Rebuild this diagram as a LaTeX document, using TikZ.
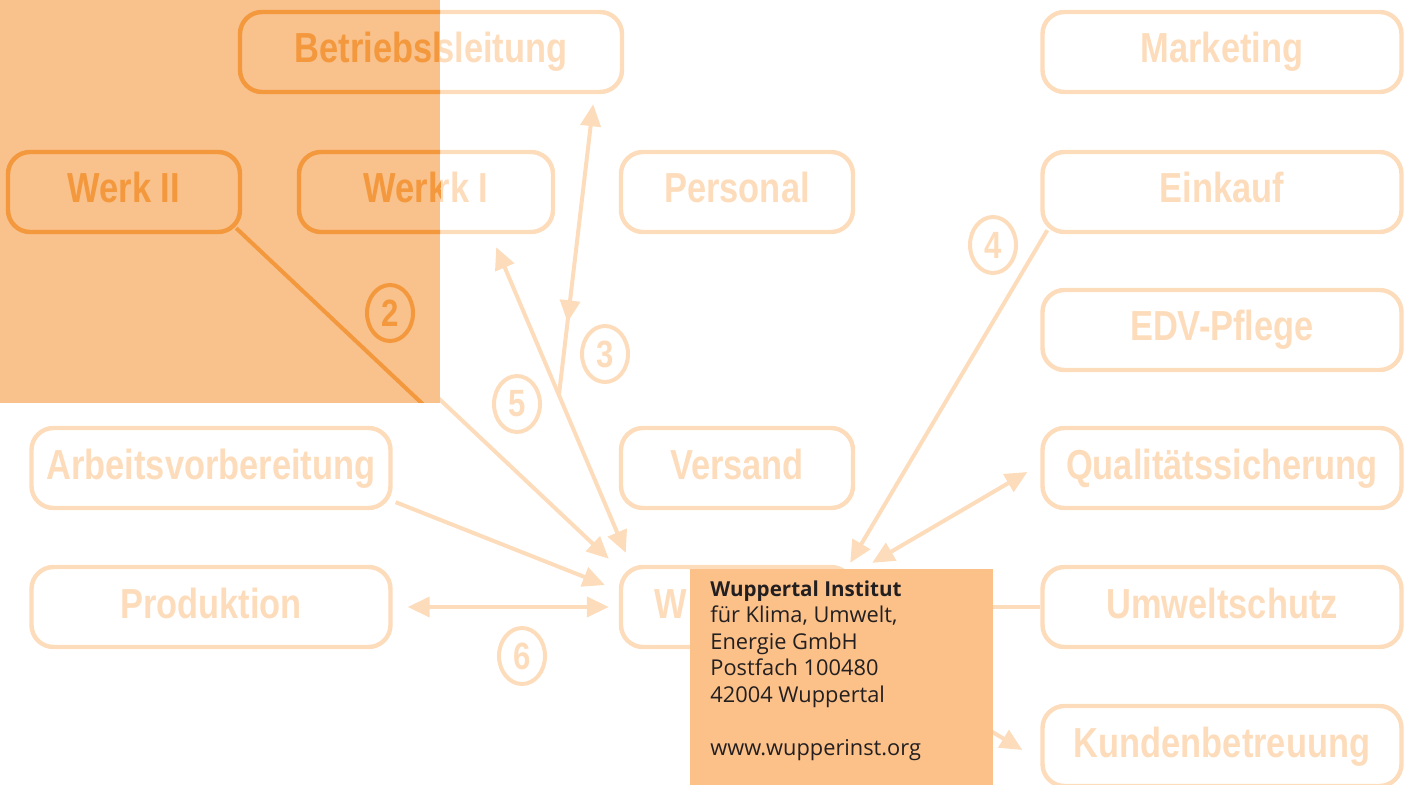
\documentclass[tikz,border=0pt]{standalone}
\usepackage{fontspec}
\usetikzlibrary{arrows.meta,shapes.geometric,decorations.markings}
\newfontfamily\boxfont{Liberation Sans}[FakeStretch=0.82]
\newfontfamily\infofont{Open Sans}
\definecolor{fadeor}{RGB}{253,220,187}
\definecolor{darkor}{RGB}{243,152,60}
\definecolor{veil}{RGB}{249,193,139}
\definecolor{infobg}{RGB}{251,193,137}
\definecolor{infotext}{RGB}{35,31,32}
\tikzset{
  box/.style={draw=#1,text=#1,line width=2.2pt,rounded corners=11pt,minimum height=40pt,minimum width=116pt,inner sep=0pt,text height=16pt,text depth=5pt,font=\boxfont\bfseries\fontsize{21}{21}\selectfont},
  box/.default=fadeor,
  wide/.style={minimum width=179.5pt},
  num/.style={draw=#1,text=#1,ellipse,line width=2pt,minimum width=23pt,minimum height=28pt,inner sep=0pt,font=\boxfont\bfseries\fontsize{19}{19}\selectfont},
  num/.default=fadeor,
  link/.style={color=#1,line width=2pt,>={Triangle[length=11pt,width=10pt]}},
  link/.default=fadeor
}
\begin{document}
\begin{tikzpicture}[x=0.5pt,y=-0.5pt]
  \useasboundingbox (0,0) rectangle (1411,785);
  \node[box,minimum width=180pt] (betrieb) at (442,52) {Betriebsleitung};
  \node[box] (werkII) at (146,192) {};
  \node[box] (werkI) at (437,192) {Werk I};
  \node[box] (personal) at (737,192) {Personal};
  \node[box,wide] (arbeit) at (211,468) {Arbeitsvorbereitung};
  \node[box] (versand) at (737,468) {Versand};
  \node[box,wide] (produktion) at (211,607) {Produktion};
  \node[box] (center) at (737,607) {};
  \node[text=fadeor,anchor=west,inner sep=0pt,font=\boxfont\bfseries\fontsize{21}{21}\selectfont] (centertxt) at (654,604) {W};
  \node[box,wide] (marketing) at (1222,52) {Marketing};
  \node[box,wide] (einkauf) at (1222,192) {Einkauf};
  \node[box,wide] (edv) at (1222,330) {EDV-Pflege};
  \node[box,wide] (quali) at (1222,468) {Qualitätssicherung};
  \node[box,wide] (umwelt) at (1222,607) {Umweltschutz};
  \node[box,wide] (kunden) at (1222,746) {Kundenbetreuung};
  \node[num] (n3) at (605,354) {3};
  \node[num] (n4) at (993,245) {4};
  \node[num] (n5) at (517,404) {5};
  \node[num] (n6) at (522,656) {6};
  \draw[link,->] ([shift={(-6,-6)}]werkII.south east) -- ([shift={(-10,-6)}]center.north west);
  \draw[link,->] ([shift={(3,-8)}]arbeit.south east) -- ([shift={(-14,-22)}]center.west);
  \draw[link,<->,shorten <=7.5pt,shorten >=5pt] (produktion) -- (center);
  \draw[link,<->] ([shift={(7,-12)}]center.north west) -- coordinate[pos=0.516] (j) ([shift={(-59,13)}]werkI.south east);
  \draw[link,->,postaction={decorate},decoration={markings,mark=at position 0.25 with {\arrowreversed{Triangle[length=11pt,width=10pt]}}}] (j) -- ([shift={(-31,10)}]betrieb.south east);
  \draw[link,->] ([shift={(7,-4)}]einkauf.south west) -- ([shift={(-5,-2)}]center.north east);
  \draw[link,<->] ([shift={(17,-2)}]center.north east) -- ([shift={(-13,4)}]quali.west);
  \draw[link] (center.east) -- (umwelt.west);
  \draw[link,->] (center.south east) -- ([shift={(-18,4)}]kunden.west);
  % darker corner
  \fill[veil] (0,0) rectangle (440,403);
  \begin{scope}
    \clip (0,0) rectangle (440,403);
    \begin{scope}[xshift=-11pt]
      \node[box=darkor,minimum width=180pt] (betriebdk) at (442,52) {Betriebsleitung};
      \node[box=darkor] (werkIIdk) at (146,192) {Werk II};
      \node[box=darkor] (werkIdk) at (437,192) {Werk I};
      \node[num=darkor] (n2) at (412,313) {2};
      \draw[link=darkor] ([shift={(-6,-6)}]werkIIdk.south east) -- ([shift={(-32,-6)}]center.north west);
    \end{scope}
  \end{scope}
  \fill[infobg] (690,569) rectangle (993,785);
  \node[anchor=north west,inner sep=0pt,align=left,text=infotext,font=\infofont\fontsize{10.9}{13.3}\selectfont] (info) at (710,580)
    {{\fontsize{10.3}{13.3}\selectfont\bfseries Wuppertal Institut}\\für Klima, Umwelt,\\Energie GmbH\\Postfach 100480\\42004 Wuppertal\\[13.3pt]www.wupperinst.org};
\end{tikzpicture}
\end{document}
